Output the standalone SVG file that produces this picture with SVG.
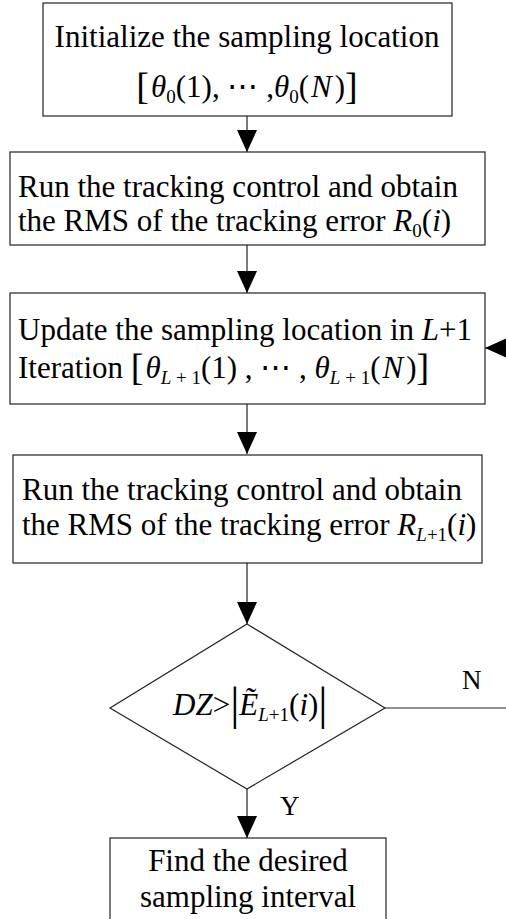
<svg xmlns="http://www.w3.org/2000/svg" width="506" height="919" viewBox="0 0 506 919">
  <style>
    .box { fill: #ffffff; stroke: #222222; stroke-width: 1.2; }
    .line { fill: none; stroke: #222222; stroke-width: 1.2; }
    .t { font-family: "Liberation Serif", "Times New Roman", serif; font-size: 31px; fill: #000000; }
    .i { font-style: italic; }
    .sub { font-size: 19px; }
    .br { font-size: 38px; }
    .lbl { font-family: "Liberation Serif", "Times New Roman", serif; font-size: 27px; fill: #000000; }
  </style>
  <defs>
    <marker id="arrow" viewBox="0 0 22 20" markerUnits="userSpaceOnUse" markerWidth="22" markerHeight="20" refX="22" refY="10" orient="auto">
      <path d="M0,0 L22,10 L0,20 z" fill="#000000"/>
    </marker>
  </defs>
  <rect width="506" height="919" fill="#ffffff"/>

  <!-- connectors -->
  <g id="connectors">
    <path class="line" d="M247,116 V152" marker-end="url(#arrow)"/>
    <path class="line" d="M247,245 V293" marker-end="url(#arrow)"/>
    <path class="line" d="M247,404 V454" marker-end="url(#arrow)"/>
    <path class="line" d="M247,563 V624" marker-end="url(#arrow)"/>
    <path class="line" d="M247,789 V838" marker-end="url(#arrow)"/>
    <path class="line" d="M385,708 H510"/>
    <path class="line" d="M515,348 H485" marker-end="url(#arrow)"/>
    <text class="lbl" x="462" y="689">N</text>
    <text class="lbl" x="280" y="815">Y</text>
  </g>

  <!-- initialization -->
  <g id="init">
    <rect class="box" x="43" y="3" width="409" height="113"/>
    <text class="t" x="247" y="47" text-anchor="middle">Initialize the sampling location</text>
    <text class="t" x="247" y="97" text-anchor="middle"><tspan class="br" dy="2">[</tspan><tspan class="i" dx="2" dy="-2">θ</tspan><tspan class="sub" dy="6">0</tspan><tspan dy="-6">(1), ⋯ ,</tspan><tspan class="i">θ</tspan><tspan class="sub" dy="6">0</tspan><tspan dy="-6">(</tspan><tspan class="i" dx="2">N</tspan><tspan dx="3">)</tspan><tspan class="br" dy="2">]</tspan></text>
  </g>

  <!-- first tracking run -->
  <g id="run0">
    <rect class="box" x="10" y="152" width="475" height="93"/>
    <text class="t" x="18" y="197">Run the tracking control and obtain</text>
    <text class="t" x="18" y="231">the RMS of the tracking error <tspan class="i">R</tspan><tspan class="sub" dy="6">0</tspan><tspan dy="-6">(</tspan><tspan class="i">i</tspan>)</text>
  </g>

  <!-- update of sampling location -->
  <g id="update">
    <rect class="box" x="10" y="293" width="475" height="111"/>
    <text class="t" x="18" y="340">Update the sampling location in <tspan class="i">L</tspan>+1</text>
    <text class="t" x="18" y="378">Iteration <tspan class="br" dy="2">[</tspan><tspan class="i" dx="2" dy="-2">θ</tspan><tspan class="sub" dy="6"><tspan class="i">L</tspan> + 1</tspan><tspan dy="-6">(1) , ⋯ , </tspan><tspan class="i">θ</tspan><tspan class="sub" dy="6"><tspan class="i">L</tspan> + 1</tspan><tspan dy="-6">(</tspan><tspan class="i" dx="2">N</tspan><tspan dx="3">)</tspan><tspan class="br" dy="2">]</tspan></text>
  </g>

  <!-- tracking run in iteration L+1 -->
  <g id="runL">
    <rect class="box" x="13" y="455" width="469" height="108"/>
    <text class="t" x="22" y="500">Run the tracking control and obtain</text>
    <text class="t" x="22" y="535">the RMS of the tracking error <tspan class="i">R</tspan><tspan class="sub" dy="6"><tspan class="i">L</tspan>+1</tspan><tspan dy="-6">(</tspan><tspan class="i">i</tspan>)</text>
  </g>

  <!-- dead-zone check -->
  <g id="check">
    <polygon class="box" points="247,624 385,708 247,789 110,708"/>
    <text class="t" x="173" y="715"><tspan class="i">DZ</tspan>&gt;<tspan font-size="46" dy="4">|</tspan><tspan class="i" dy="-4">Ẽ</tspan><tspan class="sub" dy="6"><tspan class="i">L</tspan>+1</tspan><tspan dy="-6">(</tspan><tspan class="i">i</tspan>)<tspan font-size="46" dy="4">|</tspan></text>
  </g>

  <!-- result -->
  <g id="result">
    <rect class="box" x="110" y="838" width="276" height="95"/>
    <text class="t" x="248" y="871" text-anchor="middle">Find the desired</text>
    <text class="t" x="248" y="907" text-anchor="middle">sampling interval</text>
  </g>
</svg>
